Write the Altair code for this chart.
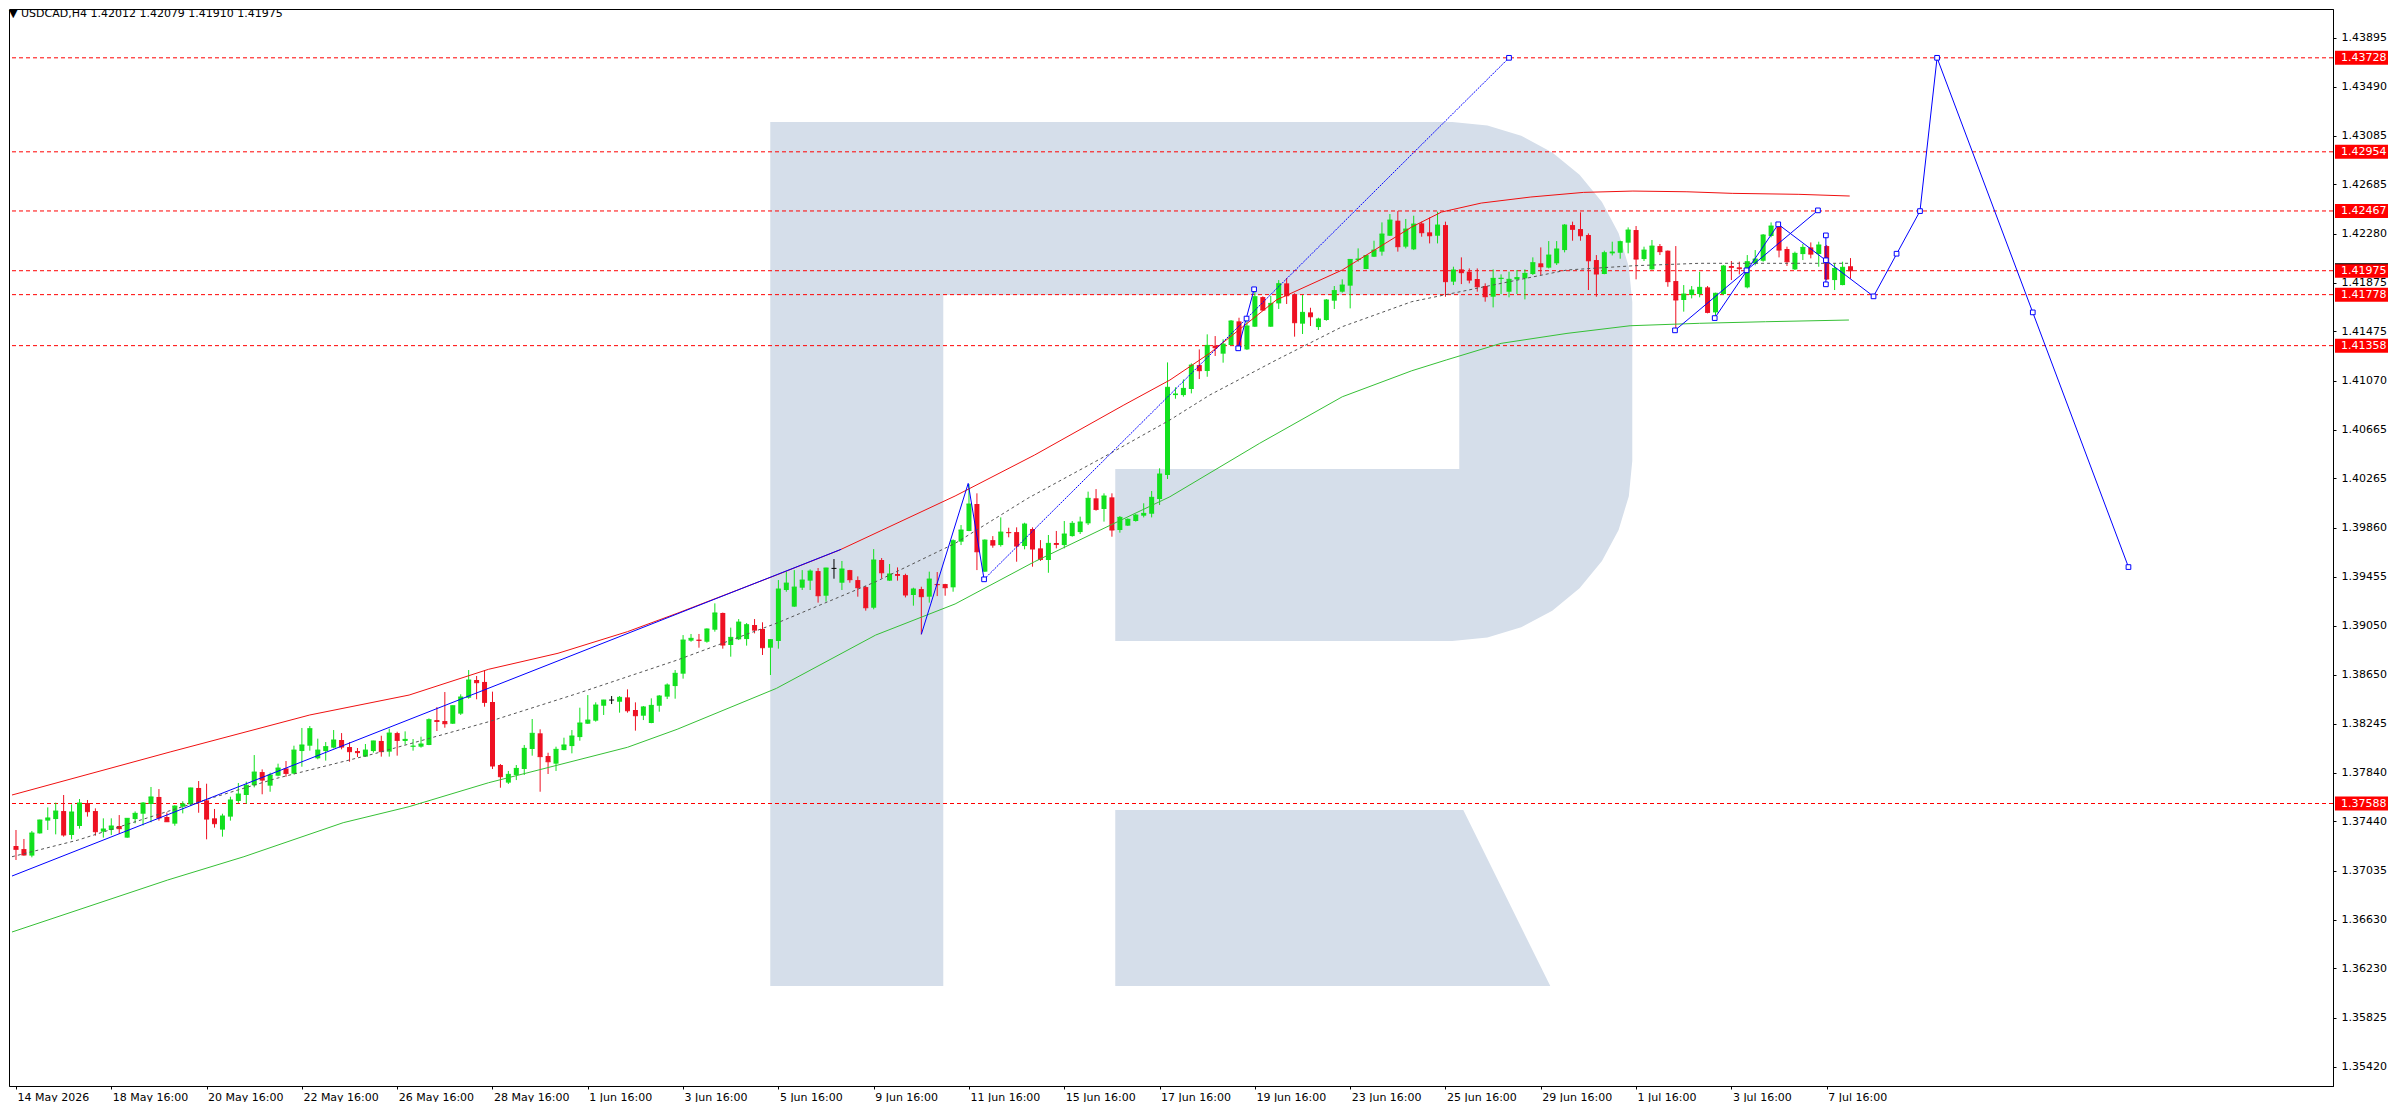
import math
import numpy as np
import pandas as pd
import altair as alt

# ---------------- candles (USDCAD H4) ----------------
OPEN = [1.37238,1.37213,1.37159,1.37342,1.37447,1.37460,1.37526,1.37329,1.37403,1.37592,
1.37526,1.37356,1.37370,1.37403,1.37307,1.37460,1.37504,1.37584,1.37642,1.37477,
1.37422,1.37562,1.37581,1.37716,1.37614,1.37466,1.37373,1.37480,1.37609,1.37658,
1.37738,1.37847,1.37735,1.37817,1.37877,1.37834,1.38020,1.38064,1.37960,1.38020,
1.38048,1.38111,1.38053,1.38020,1.37974,1.38020,1.38103,1.38015,1.38168,1.38103,
1.38056,1.38056,1.38070,1.38275,1.38267,1.38245,1.38328,1.38459,1.38605,1.38589,
1.38424,1.37905,1.37760,1.37823,1.37872,1.38037,1.38166,1.37979,1.37916,1.38028,
1.38061,1.38135,1.38245,1.38270,1.38393,1.38440,1.38426,1.38462,1.38358,1.38311,
1.38251,1.38393,1.38468,1.38555,1.38657,1.38929,1.38937,1.38920,1.39019,1.39157,
1.38893,1.38940,1.38942,1.39058,1.39025,1.38871,1.38926,1.39346,1.39209,1.39365,
1.39423,1.39502,1.39299,1.39524,1.39406,1.39510,1.39428,1.39370,1.39200,1.39593,
1.39423,1.39478,1.39469,1.39305,1.39354,1.39291,1.39395,1.39395,1.39368,1.39744,
1.39832,1.40054,1.39497,1.39757,1.39716,1.39823,1.39823,1.39708,1.39848,1.39689,
1.39593,1.39733,1.39716,1.39790,1.39823,1.39895,1.40101,1.40013,1.40109,1.39840,
1.39876,1.39914,1.39958,1.39974,1.40095,1.40293,1.40951,1.40951,1.41001,1.41198,
1.41149,1.41358,1.41292,1.41363,1.41558,1.41327,1.41514,1.41758,1.41514,1.41706,
1.41871,1.41780,1.41539,1.41632,1.41511,1.41569,1.41728,1.41802,1.41852,1.42063,
1.41989,1.42090,1.42132,1.42263,1.42387,1.42173,1.42151,1.42365,1.42291,1.42263,
1.42351,1.41885,1.41986,1.41967,1.41907,1.41849,1.41761,1.41907,1.41802,1.41904,
1.41912,1.41948,1.42036,1.42000,1.42036,1.42145,1.42351,1.42318,1.42269,1.42063,
1.41948,1.42118,1.42123,1.42206,1.42310,1.42071,1.41986,1.42178,1.42140,1.41890,
1.41734,1.41775,1.41783,1.41838,1.41632,1.41783,1.42014,1.42003,1.41838,1.42036,
1.42057,1.42261,1.42343,1.42154,1.41986,1.42112,1.42167,1.42112,1.42178,1.41898,
1.41857,1.42012]

HIGH = [1.37370,1.37296,1.37362,1.37455,1.37556,1.37595,1.37658,1.37581,1.37625,1.37617,
1.37548,1.37466,1.37466,1.37493,1.37468,1.37523,1.37600,1.37724,1.37707,1.37515,
1.37573,1.37606,1.37718,1.37773,1.37751,1.37543,1.37504,1.37644,1.37757,1.37768,
1.37987,1.37869,1.37842,1.37916,1.37938,1.38064,1.38210,1.38226,1.38122,1.38094,
1.38193,1.38168,1.38094,1.38045,1.38078,1.38105,1.38146,1.38204,1.38179,1.38182,
1.38119,1.38138,1.38289,1.38382,1.38506,1.38395,1.38487,1.38687,1.38638,1.38687,
1.38509,1.37913,1.37856,1.37905,1.38070,1.38284,1.38199,1.38006,1.38056,1.38130,
1.38193,1.38377,1.38481,1.38421,1.38442,1.38473,1.38473,1.38528,1.38421,1.38391,
1.38454,1.38481,1.38577,1.38687,1.38975,1.38984,1.38984,1.39030,1.39236,1.39160,
1.39036,1.39107,1.39074,1.39107,1.39080,1.38942,1.39428,1.39497,1.39510,1.39510,
1.39516,1.39527,1.39529,1.39601,1.39585,1.39512,1.39458,1.39379,1.39683,1.39609,
1.39560,1.39532,1.39480,1.39365,1.39373,1.39497,1.39494,1.39397,1.39763,1.39881,
1.40219,1.40142,1.39763,1.39790,1.39944,1.39859,1.39862,1.39900,1.39862,1.39757,
1.39799,1.39832,1.39914,1.39914,1.39950,1.40156,1.40177,1.40142,1.40142,1.39955,
1.39936,1.39972,1.40060,1.40161,1.40348,1.41220,1.41015,1.41080,1.41212,1.41327,
1.41451,1.41437,1.41410,1.41569,1.41588,1.41580,1.41811,1.41764,1.41767,1.41898,
1.41915,1.41789,1.41775,1.41670,1.41588,1.41742,1.41849,1.41904,1.42070,1.42159,
1.42101,1.42222,1.42373,1.42442,1.42466,1.42401,1.42428,1.42379,1.42414,1.42461,
1.42379,1.42008,1.42085,1.41994,1.41994,1.41871,1.41986,1.41945,1.41967,1.41981,
1.41986,1.42085,1.42167,1.42219,1.42219,1.42359,1.42379,1.42456,1.42282,1.42104,
1.42140,1.42214,1.42222,1.42332,1.42343,1.42173,1.42228,1.42195,1.42142,1.42178,
1.41857,1.41849,1.41967,1.41849,1.41794,1.42022,1.42055,1.42049,1.42104,1.42145,
1.42277,1.42373,1.42365,1.42173,1.42132,1.42195,1.42208,1.42214,1.42187,1.42036,
1.42049,1.42079]

LOW = [1.37123,1.37159,1.37145,1.37340,1.37370,1.37334,1.37315,1.37293,1.37381,1.37480,
1.37323,1.37307,1.37329,1.37337,1.37305,1.37425,1.37408,1.37433,1.37447,1.37436,
1.37405,1.37507,1.37567,1.37512,1.37293,1.37389,1.37315,1.37447,1.37592,1.37587,
1.37721,1.37664,1.37685,1.37812,1.37809,1.37828,1.37891,1.38023,1.37952,1.37941,
1.38042,1.38034,1.37932,1.37971,1.37972,1.38007,1.37974,1.37974,1.37982,1.38072,
1.38023,1.38048,1.38068,1.38185,1.38212,1.38243,1.38317,1.38451,1.38446,1.38385,
1.37872,1.37718,1.37749,1.37781,1.37823,1.37982,1.37685,1.37831,1.37856,1.38026,
1.38001,1.38105,1.38243,1.38262,1.38317,1.38407,1.38336,1.38336,1.38188,1.38275,
1.38249,1.38344,1.38448,1.38451,1.38616,1.38920,1.38871,1.38912,1.39003,1.38863,
1.38797,1.38934,1.38888,1.38989,1.38811,1.38646,1.38863,1.39332,1.39207,1.39346,
1.39346,1.39242,1.39250,1.39439,1.39346,1.39406,1.39291,1.39176,1.39187,1.39442,
1.39421,1.39423,1.39285,1.39217,1.38981,1.39242,1.39296,1.39299,1.39332,1.39716,
1.39830,1.39510,1.39495,1.39694,1.39703,1.39780,1.39579,1.39681,1.39538,1.39585,
1.39488,1.39689,1.39689,1.39785,1.39807,1.39881,1.39999,1.39909,1.39785,1.39818,
1.39873,1.39909,1.39944,1.39944,1.40046,1.40260,1.40921,1.40938,1.40965,1.41083,
1.41102,1.41273,1.41218,1.41361,1.41336,1.41322,1.41512,1.41646,1.41512,1.41660,
1.41701,1.41432,1.41454,1.41520,1.41487,1.41563,1.41660,1.41794,1.41665,1.42049,
1.41987,1.42088,1.42099,1.42261,1.42132,1.42159,1.42145,1.42255,1.42200,1.42200,
1.41761,1.41857,1.41865,1.41871,1.41802,1.41720,1.41673,1.41783,1.41756,1.41783,
1.41739,1.41940,1.41940,1.41994,1.42022,1.42126,1.42222,1.42222,1.41816,1.41761,
1.41946,1.42101,1.42074,1.42118,1.41904,1.42055,1.41984,1.42104,1.41843,1.41487,
1.41638,1.41747,1.41756,1.41624,1.41596,1.41775,1.41898,1.41945,1.41830,1.42019,
1.42049,1.42250,1.42085,1.42014,1.41981,1.42063,1.42077,1.42008,1.41898,1.41816,
1.41855,1.41910]

CLOSE = [1.37211,1.37164,1.37345,1.37452,1.37469,1.37526,1.37329,1.37518,1.37592,1.37521,
1.37356,1.37378,1.37403,1.37381,1.37466,1.37507,1.37592,1.37642,1.37469,1.37438,
1.37567,1.37584,1.37716,1.37603,1.37460,1.37422,1.37485,1.37617,1.37666,1.37738,
1.37847,1.37781,1.37823,1.37880,1.37836,1.38028,1.38070,1.38204,1.38028,1.38056,
1.38111,1.38053,1.38015,1.38007,1.38028,1.38103,1.38015,1.38168,1.38108,1.38116,
1.38061,1.38078,1.38278,1.38264,1.38245,1.38393,1.38465,1.38605,1.38583,1.38421,
1.37897,1.37809,1.37828,1.37877,1.38042,1.38166,1.37974,1.37932,1.38034,1.38070,
1.38144,1.38251,1.38275,1.38399,1.38440,1.38440,1.38462,1.38352,1.38311,1.38383,
1.38396,1.38473,1.38564,1.38660,1.38934,1.38948,1.38931,1.39025,1.39157,1.38893,
1.38956,1.39082,1.39060,1.39016,1.38871,1.38937,1.39354,1.39403,1.39370,1.39428,
1.39502,1.39299,1.39527,1.39524,1.39519,1.39431,1.39365,1.39200,1.39593,1.39488,
1.39478,1.39467,1.39305,1.39354,1.39291,1.39436,1.39390,1.39365,1.39752,1.39840,
1.40054,1.39661,1.39757,1.39716,1.39823,1.39818,1.39708,1.39889,1.39683,1.39598,
1.39730,1.39722,1.39807,1.39895,1.39906,1.40101,1.40010,1.40120,1.39840,1.39944,
1.39928,1.39963,1.39977,1.40109,1.40301,1.41015,1.40960,1.41006,1.41198,1.41152,
1.41360,1.41341,1.41371,1.41561,1.41349,1.41520,1.41761,1.41651,1.41706,1.41868,
1.41769,1.41547,1.41632,1.41596,1.41577,1.41734,1.41811,1.41857,1.42068,1.42071,
1.42099,1.42145,1.42277,1.42392,1.42173,1.42318,1.42359,1.42288,1.42263,1.42351,
1.41885,1.41981,1.41959,1.41898,1.41843,1.41761,1.41912,1.41913,1.41904,1.41918,
1.41953,1.42041,1.42008,1.42104,1.42154,1.42351,1.42316,1.42263,1.42057,1.41948,
1.42123,1.42129,1.42214,1.42310,1.42071,1.42145,1.42178,1.42132,1.41885,1.41734,
1.41783,1.41816,1.41838,1.41632,1.41789,1.42014,1.42003,1.41992,1.42049,1.42071,
1.42269,1.42343,1.42145,1.42049,1.42118,1.42167,1.42112,1.42187,1.41907,1.41994,
1.42003,1.41975]

# ---------------- envelope indicator lines (bar index, price) ----------------
UPPER_X = [-0.5, 19.5, 37.0, 49.5, 59.5, 68.25, 77.0, 83.25, 95.75, 103.7, 118.25, 128.25,
           139.5, 145.3, 150.3, 158.7, 167.0, 175.75, 179.5, 184.5, 190.75, 197.4, 203.6,
           210.4, 216.1, 224.5, 230.9]
UPPER_Y = [1.37658, 1.38014, 1.38317, 1.38481, 1.38693, 1.38825, 1.39003, 1.39154, 1.39469,
           1.39675, 1.40120, 1.40457, 1.40869, 1.41075, 1.41295, 1.41734, 1.41981, 1.42335,
           1.42458, 1.42532, 1.42582, 1.42620, 1.42631, 1.42625, 1.42612, 1.42604, 1.42590]
MID_X = [-0.5, 7.8, 20.3, 32.8, 45.3, 59.5, 70.75, 83.25, 95.75, 108.25, 118.25, 127.4, 137.8,
         145.3, 150.3, 158.7, 167.0, 175.75, 184.9, 195.3, 203.7, 212.0, 220.3, 230.8]
MID_Y = [1.37150, 1.37287, 1.37548, 1.37795, 1.38001, 1.38261, 1.38495, 1.38769, 1.39072,
         1.39414, 1.39730, 1.40101, 1.40471, 1.40746, 1.40951, 1.41240, 1.41514, 1.41720,
         1.41843, 1.41981, 1.42016, 1.42036, 1.42036, 1.42036]
LOWER_X = [-0.5, 19.1, 28.7, 41.2, 49.5, 59.5, 77.0, 83.25, 95.75, 108.25, 118.25, 128.25,
           138.7, 145.3, 156.6, 167.0, 175.75, 180.1, 187.0, 195.3, 203.25, 212.0, 220.3, 230.8]
LOWER_Y = [1.36530, 1.36958, 1.37150, 1.37430, 1.37562, 1.37759, 1.38051, 1.38199, 1.38536,
           1.38975, 1.39231, 1.39579, 1.39908, 1.40114, 1.40554, 1.40937, 1.41151, 1.41240,
           1.41377, 1.41459, 1.41522, 1.41542, 1.41555, 1.41569]

# ---------------- drawn wave / forecast lines (bar index, price) ----------------
TREND = [(-0.5, 1.36991), (103.9, 1.39681)]
WAVE_ABC = [(114.0, 1.38981), (119.9, 1.40224), (121.9, 1.39434)]
WAVE_CD = [(121.9, 1.39434), (188.0, 1.43728)]
WAVE_EF = [(153.9, 1.41336), (155.9, 1.41822)]
WAVE_GH = [(208.9, 1.41484), (226.9, 1.42472)]
WAVE_IJK = [(213.9, 1.41585), (221.9, 1.42357), (233.9, 1.41764)]
WAVE_V = [(227.9, 1.42266), (227.9, 1.41863)]
FORECAST = [(233.9, 1.41764), (239.75, 1.42466), (241.9, 1.43728), (266.0, 1.39535)]

MARK_X = [121.9, 188.0, 154.95, 153.9, 155.9, 208.9, 226.9, 217.9, 213.9, 221.9, 233.9,
          227.9, 227.9, 227.9, 236.8, 239.75, 241.9, 253.95, 266.0]
MARK_Y = [1.39434, 1.43728, 1.41581, 1.41336, 1.41822, 1.41484, 1.42472, 1.41978, 1.41585,
          1.42357, 1.41764, 1.42061, 1.42266, 1.41863, 1.42115, 1.42466, 1.43728, 1.41632,
          1.39535]

# ---------------- levels and axes ----------------
LEVELS = [1.43728, 1.42954, 1.42467, 1.41975, 1.41778, 1.41358, 1.37588]
BID = 1.41975
Y_TICKS = [1.43895, 1.43490, 1.43085, 1.42685, 1.42280, 1.41875, 1.41475, 1.41070, 1.40665,
           1.40265, 1.39860, 1.39455, 1.39050, 1.38650, 1.38245, 1.37840, 1.37440, 1.37035,
           1.36630, 1.36230, 1.35825, 1.35420]
X_TICK_POS = list(range(0, 229, 12))
X_TICK_LABELS = ["14 May 2026", "18 May 16:00", "20 May 16:00", "22 May 16:00", "26 May 16:00",
                 "28 May 16:00", "1 Jun 16:00", "3 Jun 16:00", "5 Jun 16:00", "9 Jun 16:00",
                 "11 Jun 16:00", "15 Jun 16:00", "17 Jun 16:00", "19 Jun 16:00", "23 Jun 16:00",
                 "25 Jun 16:00", "29 Jun 16:00", "1 Jul 16:00", "3 Jul 16:00", "7 Jul 16:00"]
TITLE = "\u25bc USDCAD,H4  1.42012 1.42079 1.41910 1.41975"

# ---------------- styling ----------------
W, H = 2324, 1077
PAD_RIGHT = 55
X_DOMAIN = [-0.25, 291.125]
Y_DOMAIN = [1.35262, 1.44130]
FONT = "DejaVu Sans"
GREEN = "#12E01E"
RED = "#EE1122"
BLUE = "#0000FF"
LOGO = "#D5DEEA"

xs = alt.Scale(domain=X_DOMAIN, nice=False, zero=False)
ys = alt.Scale(domain=Y_DOMAIN, nice=False, zero=False)

label_expr = "[" + ",".join("'%s'" % s for s in X_TICK_LABELS) + "][round(datum.value/12)]"
X_AXIS = dict(values=X_TICK_POS, labelExpr=label_expr, orient="bottom", title=None,
              grid=False, tickSize=3, labelPadding=2, labelAlign="left", labelOffset=1,
              labelFlush=False, labelOverlap=False, domainColor="black", tickColor="black",
              labelColor="black", labelFont=FONT, labelFontSize=11, labelBaseline="top")
Y_AXIS = dict(values=Y_TICKS, format=".5f", orient="right", title=None, grid=False,
              tickSize=3, labelPadding=5, labelFlush=False, labelOverlap=False,
              domainColor="black", tickColor="black", labelColor="black",
              labelFont=FONT, labelFontSize=11)


def X(field):
    return alt.X(field, type="quantitative", scale=xs, axis=alt.Axis(**X_AXIS), title=None)


def Y(field):
    return alt.Y(field, type="quantitative", scale=ys, axis=alt.Axis(**Y_AXIS), title=None)


# ---------------- watermark "R" logo as one custom symbol ----------------
def logo_path():
    cx, cy, half, r = 1198.0, 554.0, 432.0, 180.0
    pts = [(767, 122), (1449, 122)]
    for k in range(1, 9):
        a = -math.pi / 2 + k * (math.pi / 2) / 8
        pts.append((1449 + r * math.cos(a), 302 + r * math.sin(a)))
    pts.append((1629, 461))
    for k in range(1, 9):
        a = k * (math.pi / 2) / 8
        pts.append((1449 + r * math.cos(a), 461 + r * math.sin(a)))
    pts += [(1112, 641), (1112, 469), (1456, 469), (1456, 295), (940, 295), (940, 986), (767, 986)]
    leg = [(1112, 810), (1460, 810), (1547, 986), (1112, 986)]

    def fmt(p):
        return "%.4f,%.4f" % ((p[0] - cx) / half, (p[1] - cy) / half)
    d = "M" + " L".join(fmt(p) for p in pts) + " Z"
    d += " M" + " L".join(fmt(p) for p in leg) + " Z"
    return d


logo_df = pd.DataFrame({"idx": [149.25], "price": [1.39642]})
logo = alt.Chart(logo_df).mark_point(
    shape=logo_path(), size=864 * 864, filled=True, fill=LOGO, opacity=1, strokeWidth=0
).encode(x=X("idx"), y=Y("price"))

# ---------------- level lines ----------------
lev_df = pd.DataFrame({"price": LEVELS})
levels = alt.Chart(lev_df).mark_rule(color="#FF0000", strokeWidth=1, strokeDash=[4, 3]).encode(
    y=Y("price"))

# ---------------- candles ----------------
cdf = pd.DataFrame({"idx": np.arange(len(OPEN)), "o": OPEN, "h": HIGH, "l": LOW, "c": CLOSE})
cdf["dir"] = np.where(cdf["c"] > cdf["o"], "up", np.where(cdf["c"] < cdf["o"], "down", "flat"))
color = alt.Color("dir:N", scale=alt.Scale(domain=["up", "down", "flat"],
                                           range=[GREEN, RED, "#000000"]), legend=None)
base = alt.Chart(cdf)
wicks = base.mark_rule(strokeWidth=1, clip=True).encode(
    x=X("idx"), y=Y("l"), y2="h:Q", color=color)
bodies = base.mark_bar(size=5, orient="vertical", clip=True).encode(
    x=X("idx"), y=Y("o"), y2="c:Q", color=color)
closes = base.mark_tick(orient="horizontal", thickness=1, size=5, opacity=1, clip=True).encode(
    x=X("idx"), y=Y("c"), color=color)

# ---------------- indicator envelope ----------------
def line_df(xv, yv):
    return pd.DataFrame({"idx": xv, "price": yv, "ord": range(len(xv))})


upper = alt.Chart(line_df(UPPER_X, UPPER_Y)).mark_line(color="#F01010", strokeWidth=1, clip=True).encode(
    x=X("idx"), y=Y("price"), order="ord:Q")
lower = alt.Chart(line_df(LOWER_X, LOWER_Y)).mark_line(color="#36C036", strokeWidth=1, clip=True).encode(
    x=X("idx"), y=Y("price"), order="ord:Q")
mid = alt.Chart(line_df(MID_X, MID_Y)).mark_line(color="#555555", strokeWidth=1, strokeDash=[3, 3],
                                                 clip=True).encode(
    x=X("idx"), y=Y("price"), order="ord:Q")

# ---------------- wave lines ----------------
solid = {"trend": TREND, "abc": WAVE_ABC, "ef": WAVE_EF, "gh": WAVE_GH, "ijk": WAVE_IJK,
         "v": WAVE_V, "fc": FORECAST}
rows = []
for k, pts in solid.items():
    for i, (xv, yv) in enumerate(pts):
        rows.append({"seg": k, "ord": i, "idx": xv, "price": yv})
wave_df = pd.DataFrame(rows)
waves = alt.Chart(wave_df).mark_line(color=BLUE, strokeWidth=1, clip=True).encode(
    x=X("idx"), y=Y("price"), detail="seg:N", order="ord:Q")
cd_df = pd.DataFrame({"idx": [p[0] for p in WAVE_CD], "price": [p[1] for p in WAVE_CD], "ord": [0, 1]})
wave_cd = alt.Chart(cd_df).mark_line(color=BLUE, strokeWidth=1, strokeDash=[2, 1], clip=True).encode(
    x=X("idx"), y=Y("price"), order="ord:Q")
mk_df = pd.DataFrame({"idx": MARK_X, "price": MARK_Y})
markers = alt.Chart(mk_df).mark_point(shape="square", size=22, filled=True, fill="white",
                                      stroke=BLUE, strokeWidth=1, opacity=1).encode(
    x=X("idx"), y=Y("price"))

# ---------------- title text ----------------
title = alt.Chart(pd.DataFrame({"t": [TITLE]})).mark_text(
    align="left", baseline="alphabetic", font=FONT, fontSize=11, color="black"
).encode(x=alt.value(0), y=alt.value(8), text="t:N")

# ---------------- price labels on the right axis ----------------
BOX_W = PAD_RIGHT - 2
lab_df = pd.DataFrame({"price": LEVELS, "label": ["%.5f" % v for v in LEVELS]})
boxes = alt.Chart(lab_df).mark_tick(orient="horizontal", thickness=14, size=BOX_W, color="#FF0000",
                                    opacity=1).encode(x=alt.value(W + 2 + BOX_W / 2), y=Y("price"))
bid_df = pd.DataFrame({"price": [BID]})
bid_top = alt.Chart(bid_df).mark_tick(orient="horizontal", thickness=1, size=BOX_W, color="black",
                                      opacity=1, yOffset=-7).encode(x=alt.value(W + 2 + BOX_W / 2),
                                                                    y=Y("price"))
box_text = alt.Chart(lab_df).mark_text(align="left", baseline="middle", font=FONT, fontSize=11,
                                       color="white").encode(
    x=alt.value(W + 8), y=Y("price"), text="label:N")

chart = alt.layer(
    logo, levels, wicks, bodies, closes, upper, lower, mid, waves, wave_cd, markers,
    title, boxes, bid_top, box_text
).properties(
    width=W, height=H,
    padding={"left": 1, "top": 1, "right": PAD_RIGHT, "bottom": 16},
    autosize=alt.AutoSizeParams(type="none"),
    background="white",
).configure_view(stroke="black", strokeWidth=1)

chart.save("out.html", embed_options={"renderer": "svg", "actions": False})
